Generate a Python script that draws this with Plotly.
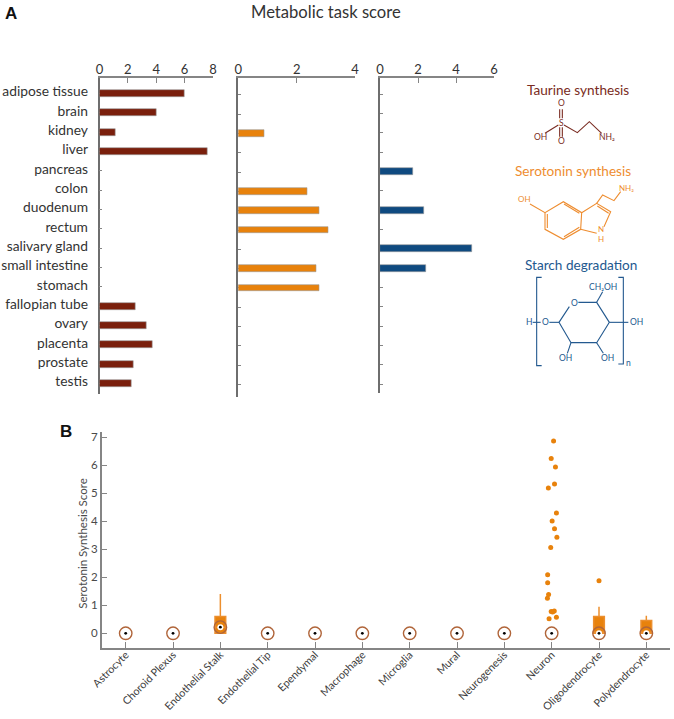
import plotly.graph_objects as go

W, H = 674, 719
FONT = "Lato"

# ---- Panel A data ----
tissues = ["adipose tissue", "brain", "kidney", "liver", "pancreas", "colon", "duodenum", "rectum",
           "salivary gland", "small intestine", "stomach", "fallopian tube", "ovary", "placenta",
           "prostate", "testis"]
taurine = [6.0, 4.05, 1.14, 7.6, None, None, None, None, None, None, None, 2.57, 3.28, 3.72, 2.43, 2.29]
serotonin = [None, None, 0.89, None, None, 2.36, 2.76, 3.07, None, 2.69, 2.76, None, None, None, None, None]
starch = [None, None, None, None, 1.72, None, 2.32, None, 4.83, 2.4, None, None, None, None, None, None]

# ---- Panel B data ----
cell_types = ["Astrocyte", "Choroid Plexus", "Endothelial Stalk", "Endothelial Tip", "Ependymal", "Macrophage",
              "Microglia", "Mural", "Neurogenesis", "Neuron", "Oligodendrocyte", "Polydendrocyte"]
positions = list(range(12))
medians = [0, 0, 0.22, 0, 0, 0, 0, 0, 0, 0, 0, 0]
box_pos = [2, 10, 11]
box_q1 = [0, 0, 0]
box_med = [0.22, 0, 0]
box_q3 = [0.6, 0.6, 0.46]
box_low = [0, 0, 0]
box_up = [1.4, 0.95, 0.63]
out_x = [9.04, 8.99, 9.08, 9.06, 8.93, 9.10, 9.01, 9.06, 9.11, 8.98, 8.915, 8.915, 8.935, 8.91, 8.99, 9.02, 9.055,
         9.10, 8.945, 10.0]
out_y = [6.87, 6.24, 5.94, 5.33, 5.19, 4.30, 4.01, 3.73, 3.43, 3.06, 2.09, 1.81, 1.39, 1.25, 0.78, 0.76, 0.80,
         0.57, 0.52, 1.88]

RED, ORANGE, BLUE = "#7a1f0c", "#e8820c", "#0f4a80"
AXIS = "#858585"
TXT = "#333333"


def fx(x):
    return x / W


def fy(y):
    return 1 - y / H


fig = go.Figure()

panels = [
    ("", taurine, RED, (99.5, 213), (78, 394), [0, 8], [0, 2, 4, 6, 8], (-0.80, 15.55)),
    ("2", serotonin, ORANGE, (238.3, 355), (78, 397), [0, 4], [0, 2, 4], (-0.864, 15.64)),
    ("3", starch, BLUE, (380, 494), (78, 393), [0, 6], [0, 2, 4, 6], (-0.84, 15.45)),
]
for i, (sfx, vals, col, xd, yd, xr, xt, yr) in enumerate(panels):
    fig.add_trace(go.Bar(x=vals, y=tissues, orientation="h", width=0.36, xaxis="x" + sfx, yaxis="y" + sfx,
                         marker=dict(color=col, line=dict(color="#9a9a9a", width=0.6)), showlegend=False))
    fig.update_layout({
        "xaxis" + sfx: dict(domain=[fx(xd[0]), fx(xd[1])], range=xr, tickvals=xt, side="top", automargin=False,
                            anchor="y" + sfx, showline=True, linecolor=AXIS, linewidth=1.5, ticks="inside",
                            ticklen=5, tickcolor=AXIS, tickwidth=1, showgrid=False, zeroline=False,
                            ticklabelstandoff=-3,
                            tickfont=dict(family=FONT, size=13, color=TXT)),
        "yaxis" + sfx: dict(domain=[fy(yd[1]), fy(yd[0])], range=[yr[1], yr[0]], type="category", automargin=False,
                            categoryorder="array", categoryarray=tissues, tickmode="array", tickvals=tissues,
                            anchor="x" + sfx, showline=True, linecolor="#6e6e6e", linewidth=1.5, ticks="inside",
                            ticklen=3, tickcolor=AXIS, tickwidth=1, showgrid=False, zeroline=False,
                            showticklabels=(i == 0), ticklabelstandoff=7, ticklabelshift=2, layer="below traces",
                            tickfont=dict(family=FONT, size=13.8, color=TXT)),
    })

# Panel B
fig.add_trace(go.Box(x=box_pos, q1=box_q1, median=box_med, q3=box_q3, lowerfence=box_low, upperfence=box_up,
                     width=0.226, whiskerwidth=0, boxpoints=False, xaxis="x4", yaxis="y4", showlegend=False,
                     fillcolor=ORANGE, line=dict(color="#ec8f2e", width=1.5)))
fig.add_trace(go.Scatter(x=out_x, y=out_y, mode="markers", xaxis="x4", yaxis="y4", showlegend=False,
                         marker=dict(color=ORANGE, size=5)))
fig.add_trace(go.Scatter(x=positions, y=medians, mode="markers", xaxis="x4", yaxis="y4", showlegend=False,
                         marker=dict(symbol="circle-open", size=12.5, color="#b0653a", line=dict(width=1.4, color="#b0653a"))))
fig.add_trace(go.Scatter(x=positions, y=medians, mode="markers", xaxis="x4", yaxis="y4", showlegend=False,
                         marker=dict(size=6, color="white")))
fig.add_trace(go.Scatter(x=positions, y=medians, mode="markers", xaxis="x4", yaxis="y4", showlegend=False,
                         marker=dict(size=2.8, color="black")))
fig.update_layout(
    xaxis4=dict(domain=[fx(101.7), fx(670)], range=[-0.507, 11.5], tickmode="array", tickvals=positions,
                ticktext=cell_types, tickangle=-45, anchor="y4", showline=True, linecolor=AXIS, linewidth=1.5,
                ticks="inside", ticklen=6, tickcolor=AXIS, tickwidth=1, showgrid=False, zeroline=False,
                automargin=False, ticklabelstandoff=-5, tickfont=dict(family=FONT, size=10.7, color="#404040")),
    yaxis4=dict(domain=[fy(647.7), fy(431.7)], range=[-0.514, 7.2], tickvals=list(range(8)), anchor="x4",
                showline=True, linecolor=AXIS, linewidth=1.5, ticks="inside", ticklen=6, tickcolor=AXIS,
                tickwidth=1, showgrid=False, zeroline=False, ticklabelstandoff=0, automargin=False,
                tickfont=dict(family=FONT, size=11.5, color="#4a4a4a")),
)

# ---- text ----
ann = []


def text(x, y, s, size, color=TXT, family=FONT, **kw):
    ann.append(dict(x=fx(x), y=fy(y), xref="paper", yref="paper", text=s, showarrow=False, xanchor="center",
                    yanchor="middle", font=dict(family=family, size=size, color=color), **kw))


def zx(v):
    return 490 + v / 3


def zy(v):
    return 70 + v / 3


text(326, 12, "Metabolic task score", 16.6, "#333333")
text(11, 14, "<b>A</b>", 17, "#111111", "Liberation Sans")
text(65.7, 431, "<b>B</b>", 17, "#111111", "Liberation Sans")
text(81.7, 544, "Serotonin Synthesis Score", 11.5, "#4a4a4a", textangle=-90)

TAU, SER, STA = "#7a2c22", "#ee8d30", "#23598f"
text(zx(265), zy(60), "Taurine synthesis", 13.6, TAU)
text(zx(248), zy(302), "Serotonin synthesis", 13.6, SER)
text(zx(272), zy(585), "Starch degradation", 13.6, STA)

for (a, b, s) in [(213, 98, "O"), (213, 158, "S"), (215, 212, "O"), (150, 202, "OH"), (352, 202, "NH₂")]:
    text(zx(a), zy(b), s, 8.5, TAU)
for (a, b, s) in [(102, 387, "OH"), (410, 354, "NH₂"), (332, 492, "N<br>H")]:
    text(zx(a), zy(b), s, 8, SER)
for (a, b, s) in [(338, 652, "CH₂OH"), (252, 698, "O"), (118, 757, "H"), (165, 757, "O"), (440, 757, "OH"),
                  (227, 863, "OH"), (353, 865, "OH"), (415, 880, "n")]:
    text(zx(a), zy(b), s, 8.5, STA)

# ---- structural formula decoration (drawn in zoom-image coordinates) ----
shapes = []


def poly(pts, color, width=1.1):
    d = "M " + " L ".join(f"{fx(zx(a)):.5f},{fy(zy(b)):.5f}" for a, b in pts)
    shapes.append(dict(type="path", path=d, xref="paper", yref="paper", line=dict(color=color, width=width)))


for p in [[(209, 118), (209, 145)], [(217, 118), (217, 145)], [(209, 172), (209, 200)], [(217, 172), (217, 200)],
          [(165, 190), (205, 165)], [(222, 165), (262, 188), (298, 155), (335, 190)]]:
    poly(p, TAU)
for p in [[(120, 402), (165, 428), (220, 395), (275, 428), (272, 478), (220, 508), (165, 478), (165, 428)],
          [(172, 432), (172, 474)], [(222, 402), (268, 430)], [(268, 472), (222, 500)],
          [(275, 428), (320, 400), (362, 425), (342, 470)], [(272, 478), (320, 490)],
          [(322, 408), (356, 430)], [(320, 400), (338, 375), (372, 392), (392, 365)]]:
    poly(p, SER)
for p in [[(155, 622), (140, 622), (140, 887), (155, 887)], [(385, 622), (400, 622), (400, 882), (385, 882)],
          [(238, 710), (207, 757), (243, 818), (320, 818), (358, 757), (320, 697), (265, 697)],
          [(320, 697), (338, 665)], [(358, 757), (415, 757)], [(207, 757), (178, 757)], [(152, 757), (128, 757)],
          [(243, 818), (232, 850)], [(320, 818), (340, 850)]]:
    poly(p, STA)

fig.update_layout(width=W, height=H, margin=dict(l=0, r=0, t=0, b=0), paper_bgcolor="white", plot_bgcolor="white",
                  showlegend=False, annotations=ann, shapes=shapes, font=dict(family=FONT), bargap=0)
fig.write_html("out.html", config=dict(displayModeBar=False),
               post_script="document.body.style.margin='0';")
